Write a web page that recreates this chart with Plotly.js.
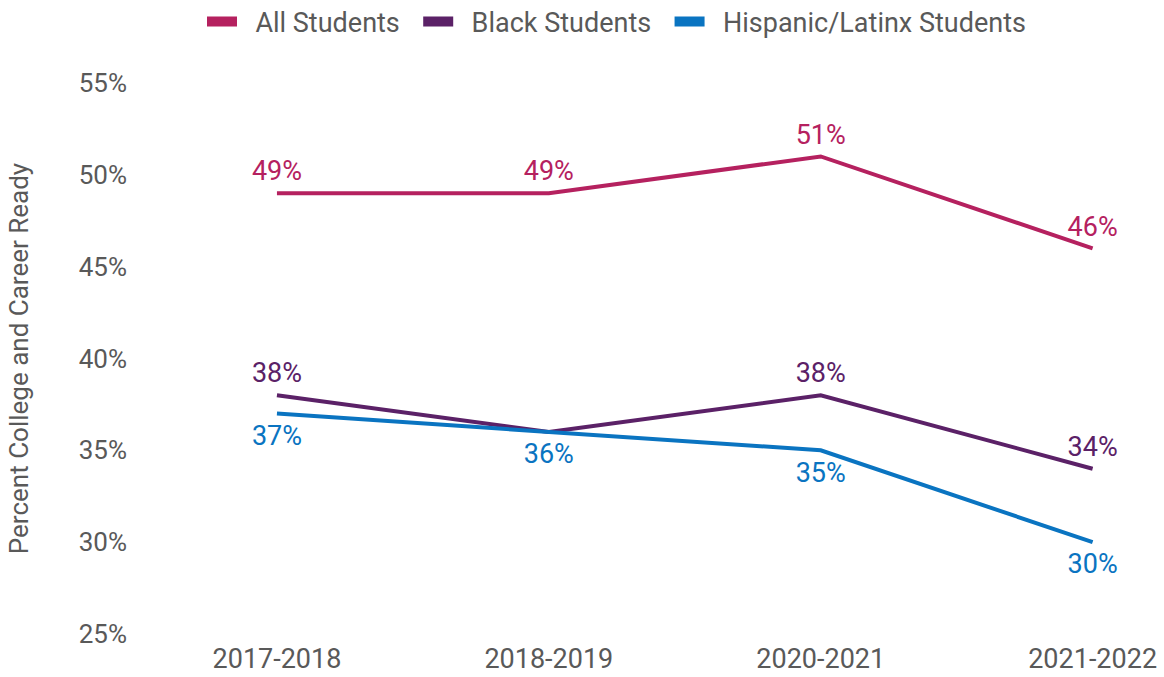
<!DOCTYPE html>
<html><head><meta charset="utf-8">
<script src="https://cdn.plot.ly/plotly-3.0.1.min.js"></script>
<style>html,body{margin:0;padding:0;background:#fff}#chart{width:1164px;height:677px}</style>
</head><body><div id="chart"></div>
<script>
const years = ["2017-2018", "2018-2019", "2020-2021", "2021-2022"];
const allStudents = [49, 49, 51, 46];
const blackStudents = [38, 36, 38, 34];
const hispanicStudents = [37, 36, 35, 30];
const blackLabels = ["38%", "", "38%", "34%"];
const seriesNames = ["All Students", "Black Students", "Hispanic/Latinx Students"];
const colors = ["#B5215F", "#5B2167", "#0A74C1"];
const yTicks = [25, 30, 35, 40, 45, 50, 55];

const FONT = "Roboto, 'Noto Sans', sans-serif";
const GREY = "#595959";
const NB = "\u00A0";
const pct = a => a.map(v => v + "%");

const traces = [
  {y: allStudents, text: pct(allStudents), textposition: "top center", msize: 8},
  {y: blackStudents, text: blackLabels, textposition: "top center", msize: 8},
  {y: hispanicStudents, text: pct(hispanicStudents), textposition: "bottom center", msize: 16}
].map((t, i) => ({
  type: "scatter", mode: "lines+markers+text", x: years, y: t.y, text: t.text,
  textposition: t.textposition, textfont: {family: FONT, size: 27, color: colors[i]},
  marker: {size: t.msize, opacity: 0, color: colors[i]},
  line: {color: colors[i], width: 4}, showlegend: false, hoverinfo: "skip", cliponaxis: false
}));

seriesNames.forEach((n, i) => traces.push({
  type: "scatter", mode: "lines", x: [null], y: [null], name: NB + NB + n + NB + NB,
  line: {color: colors[i], width: 13}
}));

const layout = {
  width: 1164, height: 677,
  margin: {l: 141, r: 17, t: 83, b: 43},
  paper_bgcolor: "#fff", plot_bgcolor: "#fff",
  font: {family: FONT, color: GREY, size: 26},
  showlegend: true,
  legend: {orientation: "h", xref: "container", yref: "container", x: 202 / 1164, xanchor: "left",
           y: 1 - 22 / 677, yanchor: "middle", font: {family: FONT, size: 27, color: GREY},
           itemwidth: 30, traceorder: "normal"},
  xaxis: {type: "category", range: [-0.5, 3.2], showgrid: false, zeroline: false, showline: false,
          ticks: "", ticklabelstandoff: 6, tickfont: {size: 27, color: GREY}, fixedrange: true},
  yaxis: {range: [25, 55], tickvals: yTicks, ticktext: yTicks.map(v => v + "%"),
          showgrid: false, zeroline: false, showline: false, ticks: "", ticklabelstandoff: 13,
          tickfont: {size: 26, color: GREY},
          title: {text: "Percent College and Career Ready", font: {size: 26, color: GREY}, standoff: 42}}
};
Plotly.newPlot("chart", traces, layout, {displayModeBar: false, staticPlot: true});
</script></body></html>
